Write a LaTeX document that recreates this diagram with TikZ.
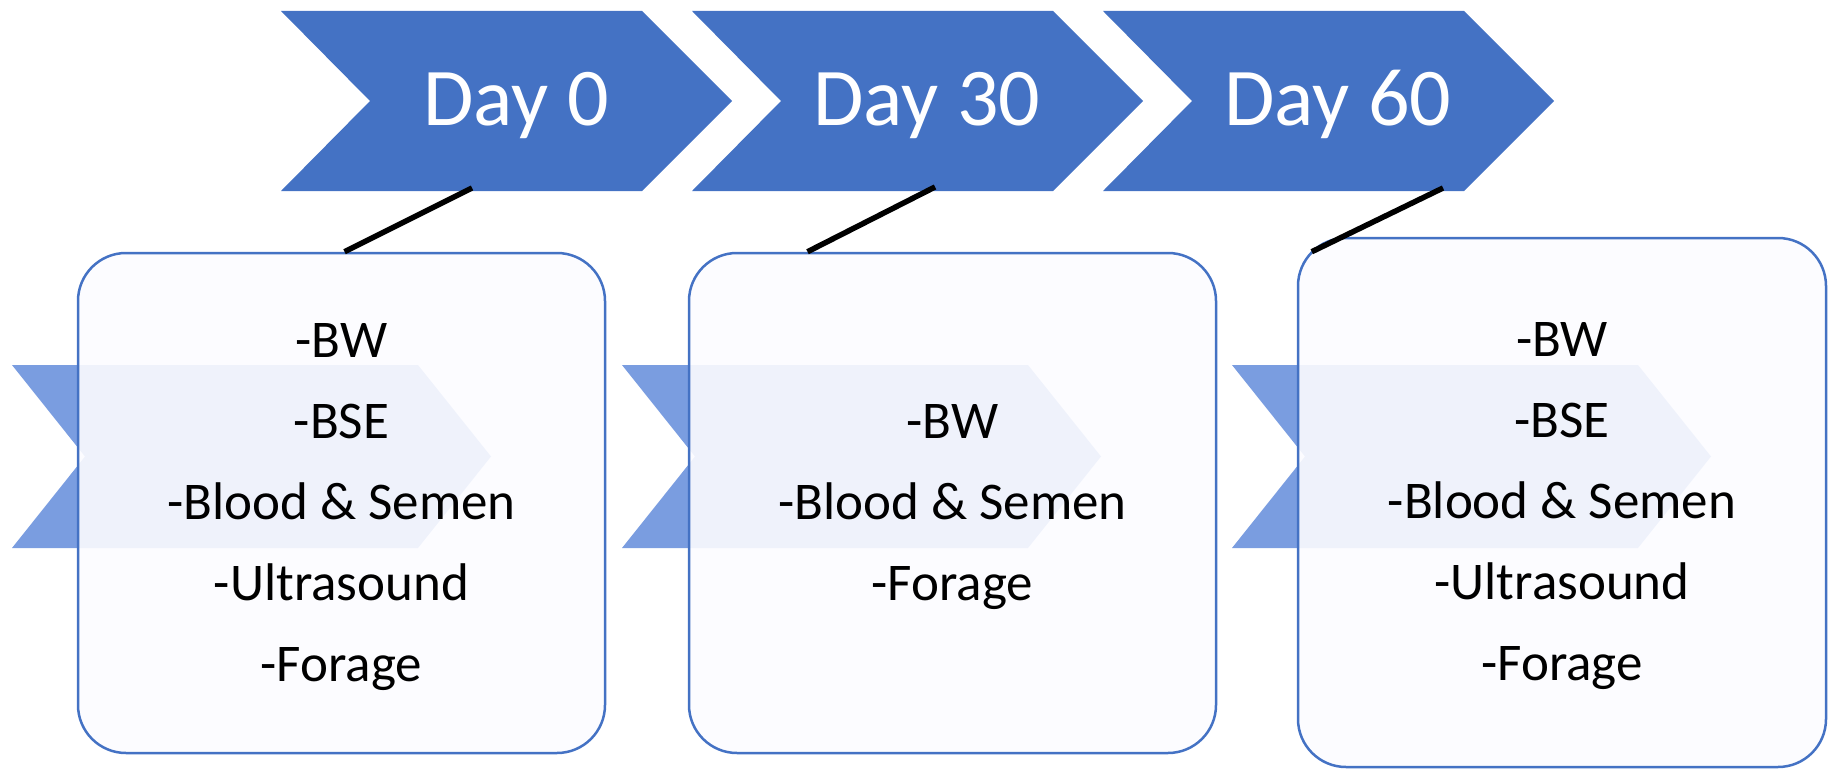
\documentclass[tikz,border=0pt]{standalone}
\usepackage{fontspec}
\setmainfont{Carlito}
\usetikzlibrary{positioning}
\definecolor{dayblue}{HTML}{4472C4}
\definecolor{fadeblue}{HTML}{7A9DE0}
\definecolor{boxfill}{HTML}{FCFCFF}
\newcommand\toplift{\rule{0pt}{42pt}}
\tikzset{daystep/.style = {fill=dayblue, draw=none}}
\tikzset{fadestep/.style = {fill=fadeblue, draw=none}}
\tikzset{daylabel/.style = {text=white, anchor=base, inner sep=0,
                            font=\fontsize{82}{98}\selectfont}}
\tikzset{notebox/.style = {draw=dayblue, line width=2.5pt, fill=boxfill,
                           fill opacity=0.9, text opacity=1,
                           rounded corners=48pt, minimum width=527pt,
                           minimum height=500pt, align=center,
                           font=\fontsize{53}{81}\selectfont}}
\tikzset{link/.style = {line width=5.5pt, black}}

\begin{document}
\begin{tikzpicture}[x=1pt, y=-1pt]
  \useasboundingbox (0,0) rectangle (1833,768);
  % faded arrows behind the boxes
  \foreach \xl in {12,622,1232}
    \fill[fadestep] (\xl,365) -- (\xl+406,365) -- (\xl+479,456.5)
      -- (\xl+406,548) -- (\xl,548) -- (\xl+73,456.5) -- cycle;
  % boxes
  \node[notebox] (box0) at (341.5,503)
    {\toplift-BW\\-BSE\\-Blood \& Semen\\-Ultrasound\\-Forage};
  \node[notebox] (box1) at (952.5,503)
    {\toplift-BW\\-Blood \& Semen\\-Forage};
  \node[notebox, minimum width=528pt, minimum height=529pt] (box2) at (1562,502.5)
    {\toplift-BW\\-BSE\\-Blood \& Semen\\-Ultrasound\\-Forage};
  % day arrows
  \foreach \xl in {281,692,1103}
    \fill[daystep] (\xl,11) -- (\xl+361,11) -- (\xl+451,101)
      -- (\xl+361,191) -- (\xl,191) -- (\xl+89,101) -- cycle;
  \node[daylabel] (day0) at (516,125) {Day 0};
  \node[daylabel] (day30) at (927,125) {Day 30};
  \node[daylabel] (day60) at (1338,125) {Day 60};
  % links
  \coordinate (c0) at (472,188);
  \coordinate (c1) at (935,187);
  \coordinate (c2) at (1443,188);
  \draw[link] (c0) -- ([xshift=3pt]box0.north);
  \draw[link] (c1) -- ([xshift=-145pt]box1.north);
  \draw[link] (c2) -- ([xshift=15pt, yshift=-15pt]box2.north west);
\end{tikzpicture}
\end{document}
